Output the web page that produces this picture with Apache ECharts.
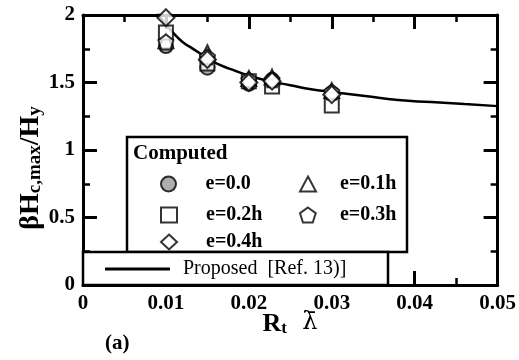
<!DOCTYPE html>
<html>
<head>
<meta charset="utf-8">
<script src="https://cdn.jsdelivr.net/npm/echarts@6/dist/echarts.min.js"></script>
<style>
  html, body { margin: 0; padding: 0; background: #fff; }
  #chart { width: 519px; height: 360px; }
</style>
</head>
<body>
<div id="chart"></div>
<script>
// Normalised slenderness R_t * lambda-bar at which results were computed
const rtLambda = [0.01, 0.015, 0.02, 0.0228, 0.03];

// Computed beta*Hc,max/Hy for each eccentricity
const e00 = [1.77, 1.61, 1.49, 1.52, 1.42];
const e01 = [1.81, 1.72, 1.53, 1.54, 1.44];
const e02 = [1.87, 1.64, 1.51, 1.47, 1.33];
const e03 = [1.80, 1.69, 1.52, 1.52, 1.43];
const e04 = [1.98, 1.67, 1.50, 1.51, 1.41];

// Proposed design curve [Ref. 13]
const curveX = [0.0089, 0.0095, 0.010, 0.011, 0.012, 0.013, 0.014, 0.015, 0.0165, 0.018,
                0.020, 0.0225, 0.025, 0.0275, 0.030, 0.034, 0.038, 0.042, 0.046, 0.050];
const curveY = [2.03, 1.97, 1.93, 1.86, 1.80, 1.76, 1.72, 1.68, 1.63, 1.595,
                1.55, 1.51, 1.48, 1.45, 1.43, 1.40, 1.37, 1.355, 1.34, 1.325];

const xTicks = [0, 0.01, 0.02, 0.03, 0.04, 0.05];
const yTicks = [0, 0.5, 1, 1.5, 2];

const FONT = 'Liberation Serif';
const pentagon = 'path://M0,-1L0.951,-0.309L0.588,0.809L-0.588,0.809L-0.951,-0.309Z';

const pairs = (xs, ys) => xs.map((x, i) => [x, ys[i]]);

const chart = echarts.init(document.getElementById('chart'), null, { renderer: 'canvas' });

const axisLine = { show: true, onZero: false, lineStyle: { color: '#000', width: 3 } };
const majorTick = { show: true, inside: true, length: 14, lineStyle: { color: '#000', width: 3 } };
const minorTick = { show: true, splitNumber: 2, length: 7, lineStyle: { color: '#000', width: 2.5 } };
const labelFont = { color: '#000', fontFamily: FONT, fontWeight: 'bold', fontSize: 21 };

const markerStyle = { color: '#fff', borderColor: '#000', borderWidth: 2 };

function scatter(name, values, symbol, size, extra) {
  return Object.assign({
    name: name,
    type: 'scatter',
    symbol: symbol,
    symbolSize: size,
    data: pairs(rtLambda, values),
    itemStyle: Object.assign({}, markerStyle),
    z: 3
  }, extra || {});
}

function legendItem(name, left, top, opts) {
  return Object.assign({
    data: [name],
    left: left,
    top: top,
    orient: 'horizontal',
    padding: 0,
    itemWidth: 16,
    itemHeight: 15,
    selectedMode: false,
    textStyle: Object.assign({}, labelFont, { fontSize: 20, padding: [0, 0, 0, 24] })
  }, opts || {});
}

const col2Text = { textStyle: Object.assign({}, labelFont, { fontSize: 20, padding: [0, 0, 0, 19] }) };

const option = {
  animation: false,
  backgroundColor: '#fff',
  grid: { left: 83, right: 20, top: 15, bottom: 75, containLabel: false },
  xAxis: [
    {
      type: 'value', min: 0, max: 0.05, interval: 0.01, position: 'bottom',
      axisLine: axisLine, axisTick: majorTick, minorTick: minorTick,
      splitLine: { show: false }, minorSplitLine: { show: false },
      axisLabel: Object.assign({}, labelFont, {
        margin: 8,
        formatter: v => {
          const t = xTicks.find(k => Math.abs(k - v) < 1e-9);
          return t === undefined ? '' : String(t);
        }
      })
    },
    {
      type: 'value', min: 0, max: 0.05, interval: 0.01, position: 'top',
      axisLine: axisLine, axisTick: majorTick, minorTick: minorTick,
      splitLine: { show: false }, axisLabel: { show: false }
    }
  ],
  yAxis: [
    {
      type: 'value', min: 0, max: 2, interval: 0.5, position: 'left',
      axisLine: axisLine, axisTick: majorTick, minorTick: minorTick,
      splitLine: { show: false }, minorSplitLine: { show: false },
      axisLabel: Object.assign({}, labelFont, {
        margin: 8,
        formatter: v => {
          const t = yTicks.find(k => Math.abs(k - v) < 1e-9);
          return t === undefined ? '' : String(t);
        }
      })
    },
    {
      type: 'value', min: 0, max: 2, interval: 0.5, position: 'right',
      axisLine: axisLine, axisTick: majorTick, minorTick: minorTick,
      splitLine: { show: false }, axisLabel: { show: false }
    }
  ],
  legend: [
    legendItem('e=0.0', 160, 174),
    legendItem('e=0.1h', 299, 174, col2Text),
    legendItem('e=0.2h', 160, 205),
    legendItem('e=0.3h', 299, 205, col2Text),
    legendItem('e=0.4h', 160, 232),
    legendItem('Proposed  [Ref. 13)]', 105, 259, {
      icon: 'rect', itemWidth: 65, itemHeight: 3,
      textStyle: Object.assign({}, labelFont, { fontSize: 20, fontWeight: 'normal', padding: [0, 0, 0, 8] })
    })
  ],
  graphic: [
    {
      type: 'rect', shape: { x: 127, y: 137, width: 280, height: 115 },
      style: { fill: '#fff', stroke: '#000', lineWidth: 2.5 }, z: 1
    },
    {
      type: 'rect', shape: { x: 83, y: 252, width: 305, height: 33 },
      style: { fill: '#fff', stroke: '#000', lineWidth: 2.5 }, z: 1
    },
    {
      type: 'text', left: 133, top: 143, z: 5,
      style: { text: 'Computed', fill: '#000', font: 'bold 21px "Liberation Serif"' }
    },
    {
      type: 'text', x: 31, y: 168, rotation: Math.PI / 2, z: 5,
      style: {
        text: '{b|βH}{s|c,max}{b|/H}{s|y}',
        align: 'center', verticalAlign: 'middle',
        rich: {
          b: { fontFamily: FONT, fontWeight: 'bold', fontSize: 28, lineHeight: 28, verticalAlign: 'top', fill: '#000' },
          s: { fontFamily: FONT, fontWeight: 'bold', fontSize: 19, lineHeight: 19, verticalAlign: 'bottom', padding: [12, 0, 0, 0], fill: '#000' }
        }
      }
    },
    {
      type: 'text', x: 290, y: 324, z: 5,
      style: {
        text: '{b|R}{s|t}{g|  λ\u0304}',
        align: 'center', verticalAlign: 'middle',
        rich: {
          b: { fontFamily: FONT, fontWeight: 'bold', fontSize: 26, lineHeight: 26, verticalAlign: 'top', fill: '#000' },
          g: { fontFamily: 'DejaVu Serif', fontWeight: 'normal', fontSize: 24, lineHeight: 26, verticalAlign: 'top', fill: '#000' },
          s: { fontFamily: FONT, fontWeight: 'bold', fontSize: 17, lineHeight: 17, verticalAlign: 'bottom', padding: [12, 0, 0, 0], fill: '#000' }
        }
      }
    },
    {
      type: 'text', left: 105, top: 333, z: 5,
      style: { text: '(a)', fill: '#000', font: 'bold 21px "Liberation Serif"' }
    }
  ],
  series: [
    {
      name: 'Proposed  [Ref. 13)]',
      type: 'line',
      data: pairs(curveX, curveY),
      smooth: true,
      symbol: 'none',
      clip: true,
      lineStyle: { color: '#000', width: 2.5 },
      itemStyle: { color: '#000' },
      z: 2
    },
    scatter('e=0.0', e00, 'circle', 14, { itemStyle: { color: '#9a9a9a', borderColor: '#000', borderWidth: 2 } }),
    scatter('e=0.1h', e01, 'triangle', 15),
    scatter('e=0.2h', e02, 'rect', 14),
    scatter('e=0.3h', e03, pentagon, 15),
    scatter('e=0.4h', e04, 'diamond', 17)
  ]
};

chart.setOption(option);
</script>
</body>
</html>
